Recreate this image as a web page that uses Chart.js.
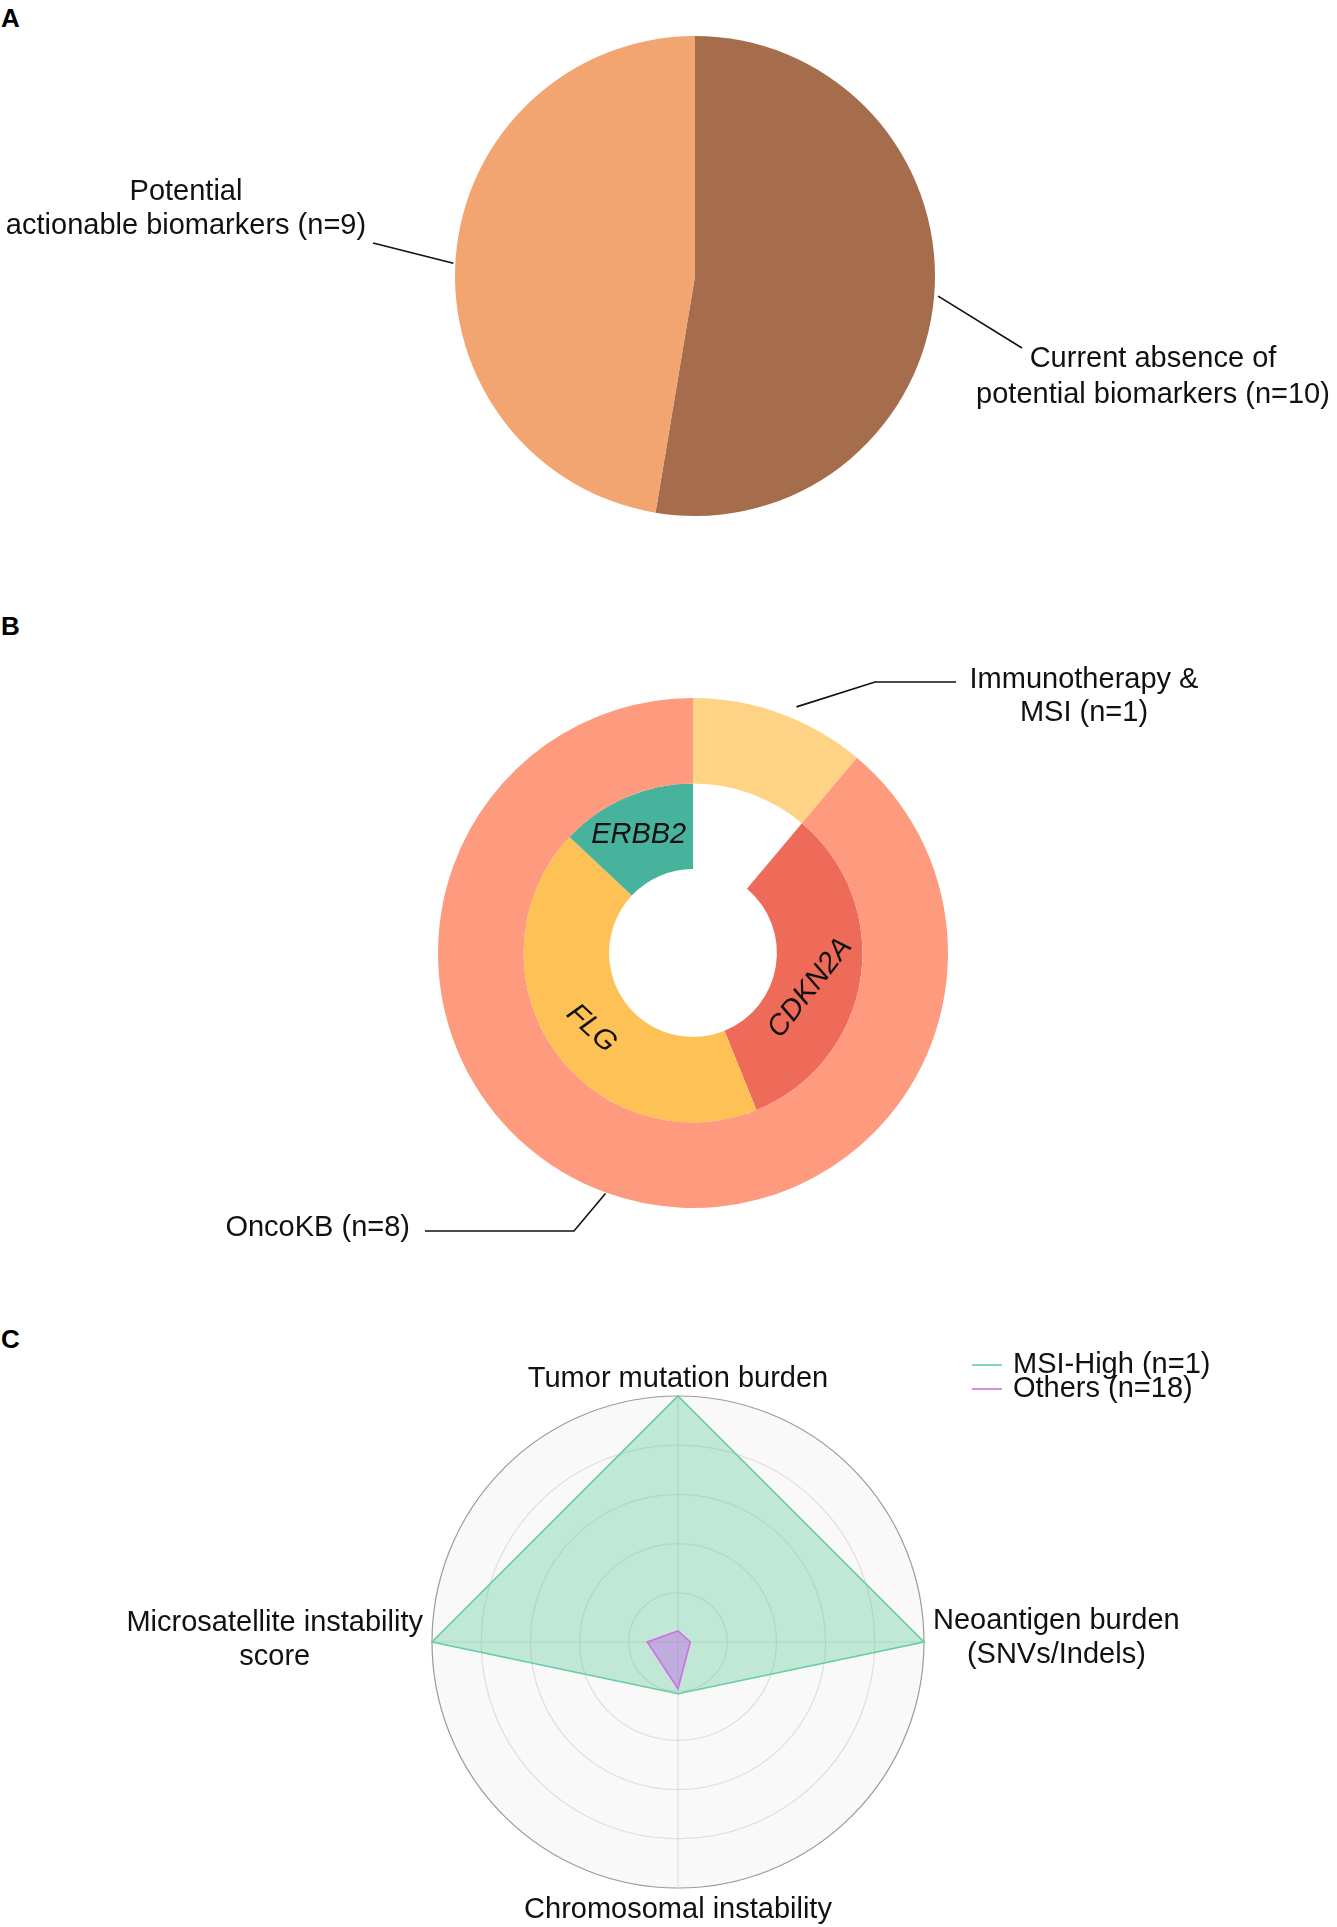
<!DOCTYPE html>
<html>
<head>
<meta charset="utf-8">
<title>Biomarker summary</title>
<script src="https://cdn.jsdelivr.net/npm/chart.js@4.4.1/dist/chart.umd.min.js"></script>
<style>
  body { margin: 0; background: #fff; width: 1337px; height: 1927px; position: relative; overflow: hidden;
         font-family: "Liberation Sans", Arial, sans-serif; }
  canvas { position: absolute; left: 0; }
  .tag { position: absolute; left: 1px; font-weight: bold; font-size: 26px; line-height: 26px; color: #000; }
</style>
</head>
<body>
<div class="tag" style="top:5px">A</div>
<canvas id="pieA" width="1337" height="600" style="top:0;width:1337px;height:600px"></canvas>
<div class="tag" style="top:613px">B</div>
<canvas id="donutB" width="1337" height="700" style="top:600px;width:1337px;height:700px"></canvas>
<div class="tag" style="top:1326px">C</div>
<canvas id="radarC" width="1337" height="627" style="top:1300px;width:1337px;height:627px"></canvas>

<script>
const FONT = '"Liberation Sans", Arial, sans-serif';

// A - patients with / without actionable biomarkers
const groupsA = [['Current absence of', 'potential biomarkers'], ['Potential', 'actionable biomarkers']];
const countsA = [10, 9];
const coloursA = ['#a66d4d', '#f2a471'];

// B - outer ring: evidence source
const groupsB = [['Immunotherapy &', 'MSI'], ['OncoKB']];
const countsB = [1, 8];
const coloursB = ['#fed386', '#fe9a7d'];
// B - inner ring: genes inside OncoKB (first slot left empty under the MSI slice)
const genesB = ['', 'CDKN2A', 'FLG', 'ERBB2'];
const geneSharesB = [1, 2.95, 3.88, 1.17];
const geneColoursB = ['rgba(255,255,255,0)', '#ee6b59', '#fec156', '#48b39c'];
const geneTiltB = [0, -52, 43, 0];
const geneNudgeB = [[0, 0], [-8, 15], [3, 4], [-4, -2]];

// C - radar of genomic features
const axesC = [['Tumor mutation burden'], ['Neoantigen burden', '(SNVs/Indels)'],
               ['Chromosomal instability'], ['Microsatellite instability', 'score']];
const groupsC = ['MSI-High', 'Others'];
const groupNC = [1, 18];
const msiHighC = [1.0, 1.0, 0.21, 1.0];
const othersC = [0.045, 0.05, 0.19, 0.125];

const withN = (lines, n) => lines.map((s, k) => k === lines.length - 1 ? s + ' (n=' + n + ')' : s);

// leader lines from a slice edge to its label
const leaderPlugin = {
  id: 'leaders',
  afterDatasetsDraw(chart, args, opts) {
    const ctx = chart.ctx;
    ctx.save();
    ctx.font = '29px ' + FONT;
    ctx.fillStyle = '#111';
    ctx.strokeStyle = '#111';
    ctx.lineWidth = 1.6;
    (opts.items || []).forEach(it => {
      const arc = chart.getDatasetMeta(it.dataset).data[it.index];
      const p = arc.getProps(['x', 'y', 'startAngle', 'endAngle', 'outerRadius'], true);
      const a = p.startAngle + (p.endAngle - p.startAngle) * it.frac;
      const r = p.outerRadius + it.gap;
      ctx.beginPath();
      ctx.moveTo(p.x + Math.cos(a) * r, p.y + Math.sin(a) * r);
      it.path.forEach(pt => ctx.lineTo(pt[0], pt[1]));
      ctx.stroke();
      ctx.textAlign = it.align;
      ctx.textBaseline = 'middle';
      it.lines.forEach((s, k) => ctx.fillText(s, it.tx, it.ty + k * it.lh));
    });
    ctx.restore();
  }
};

// gene names written inside the inner ring
const geneLabelPlugin = {
  id: 'geneLabels',
  afterDatasetsDraw(chart) {
    const ctx = chart.ctx;
    const meta = chart.getDatasetMeta(1);
    ctx.save();
    ctx.font = 'italic 29px ' + FONT;
    ctx.fillStyle = '#111';
    ctx.textAlign = 'center';
    ctx.textBaseline = 'middle';
    meta.data.forEach((arc, i) => {
      if (!genesB[i]) return;
      const pos = arc.tooltipPosition(true);
      ctx.save();
      ctx.translate(pos.x + geneNudgeB[i][0], pos.y + geneNudgeB[i][1]);
      ctx.rotate(geneTiltB[i] * Math.PI / 180);
      ctx.fillText(genesB[i], 0, 0);
      ctx.restore();
    });
    ctx.restore();
  }
};

// axis names and legend for the radar
const radarTextPlugin = {
  id: 'radarText',
  afterDraw(chart) {
    const s = chart.scales.r;
    const ctx = chart.ctx;
    ctx.save();
    ctx.font = '29px ' + FONT;
    ctx.fillStyle = '#111';
    ctx.textAlign = 'center';
    ctx.textBaseline = 'middle';
    const lh = 34;
    axesC.forEach((lines, i) => {
      const p = s.getPointPosition(i, s.drawingArea);
      const w = Math.max(...lines.map(l => ctx.measureText(l).width));
      let cx = p.x, cy = p.y;
      if (i === 0) cy = p.y - 17;
      else if (i === 2) cy = p.y + 22;
      else if (i === 1) { cx = p.x + 9 + w / 2; cy = p.y - 21; }
      else { cx = p.x - 9 - w / 2; cy = p.y - 19; }
      lines.forEach((l, k) => ctx.fillText(l, cx, cy + k * lh));
    });
    // legend
    ctx.textAlign = 'left';
    chart.data.datasets.forEach((ds, i) => {
      const y = 65 + i * 24;
      ctx.strokeStyle = ds.borderColor;
      ctx.lineWidth = 1.6;
      ctx.beginPath();
      ctx.moveTo(972, y);
      ctx.lineTo(1002, y);
      ctx.stroke();
      ctx.fillText(groupsC[i] + ' (n=' + groupNC[i] + ')', 1013, y);
    });
    ctx.restore();
  }
};

const quiet = { legend: { display: false }, tooltip: { enabled: false } };

new Chart(document.getElementById('pieA'), {
  type: 'pie',
  data: {
    labels: groupsA.map(g => g.join(' ')),
    datasets: [{ data: countsA, backgroundColor: coloursA, borderWidth: 0, hoverOffset: 0, offset: 0 }]
  },
  options: {
    responsive: false,
    animation: false,
    events: [],
    layout: { padding: { top: 36, bottom: 84, left: 455, right: 402 } },
    plugins: Object.assign({}, quiet, {
      leaders: { items: [
        { dataset: 0, index: 1, frac: 0.49, gap: 2, path: [[373, 243]], lines: withN(groupsA[1], countsA[1]),
          tx: 186, ty: 192, lh: 34, align: 'center' },
        { dataset: 0, index: 0, frac: 0.5, gap: 4, path: [[1022, 348]], lines: withN(groupsA[0], countsA[0]),
          tx: 1153, ty: 359, lh: 36, align: 'center' }
      ] }
    })
  },
  plugins: [leaderPlugin]
});

new Chart(document.getElementById('donutB'), {
  type: 'doughnut',
  data: {
    labels: genesB,
    datasets: [
      { data: countsB, backgroundColor: coloursB, borderWidth: 0, hoverOffset: 0, offset: 0 },
      { data: geneSharesB, backgroundColor: geneColoursB, borderWidth: 0, hoverOffset: 0, offset: 0 }
    ]
  },
  options: {
    responsive: false,
    animation: false,
    events: [],
    cutout: '32.9%',
    layout: { padding: { top: 98, bottom: 92, left: 438, right: 389 } },
    plugins: Object.assign({}, quiet, {
      leaders: { items: [
        { dataset: 0, index: 0, frac: 0.57, gap: 12, path: [[875, 82], [956, 82]], lines: withN(groupsB[0], countsB[0]),
          tx: 1084, ty: 80, lh: 33, align: 'center' },
        { dataset: 0, index: 1, frac: 0.5, gap: 1, path: [[574, 631], [425, 631]], lines: withN(groupsB[1], countsB[1]),
          tx: 410, ty: 628, lh: 33, align: 'right' }
      ] }
    })
  },
  plugins: [leaderPlugin, geneLabelPlugin]
});

new Chart(document.getElementById('radarC'), {
  type: 'radar',
  data: {
    labels: axesC.map(a => a.join(' ')),
    datasets: [
      { label: groupsC[0], data: msiHighC, order: 2, fill: true,
        borderColor: '#66cda0', backgroundColor: 'rgba(102,205,160,0.38)', borderWidth: 1.6, pointRadius: 0 },
      { label: groupsC[1], data: othersC, order: 1, fill: true,
        borderColor: '#d070e0', backgroundColor: 'rgba(190,100,230,0.45)', borderWidth: 1.6, pointRadius: 0 }
    ]
  },
  options: {
    responsive: false,
    animation: false,
    events: [],
    layout: { padding: { top: 96, bottom: 39, left: 432, right: 413 } },
    elements: { line: { tension: 0 } },
    scales: {
      r: {
        min: 0,
        max: 1,
        backgroundColor: '#f9f9f9',
        ticks: { display: false, stepSize: 0.2 },
        pointLabels: { display: false },
        grid: { circular: true, lineWidth: 1.2,
                color: c => (c.tick && c.tick.value >= 1) ? '#9b9b9b' : '#dedede' },
        angleLines: { color: '#dedede', lineWidth: 1.2 }
      }
    },
    plugins: quiet
  },
  plugins: [radarTextPlugin]
});
</script>
</body>
</html>
